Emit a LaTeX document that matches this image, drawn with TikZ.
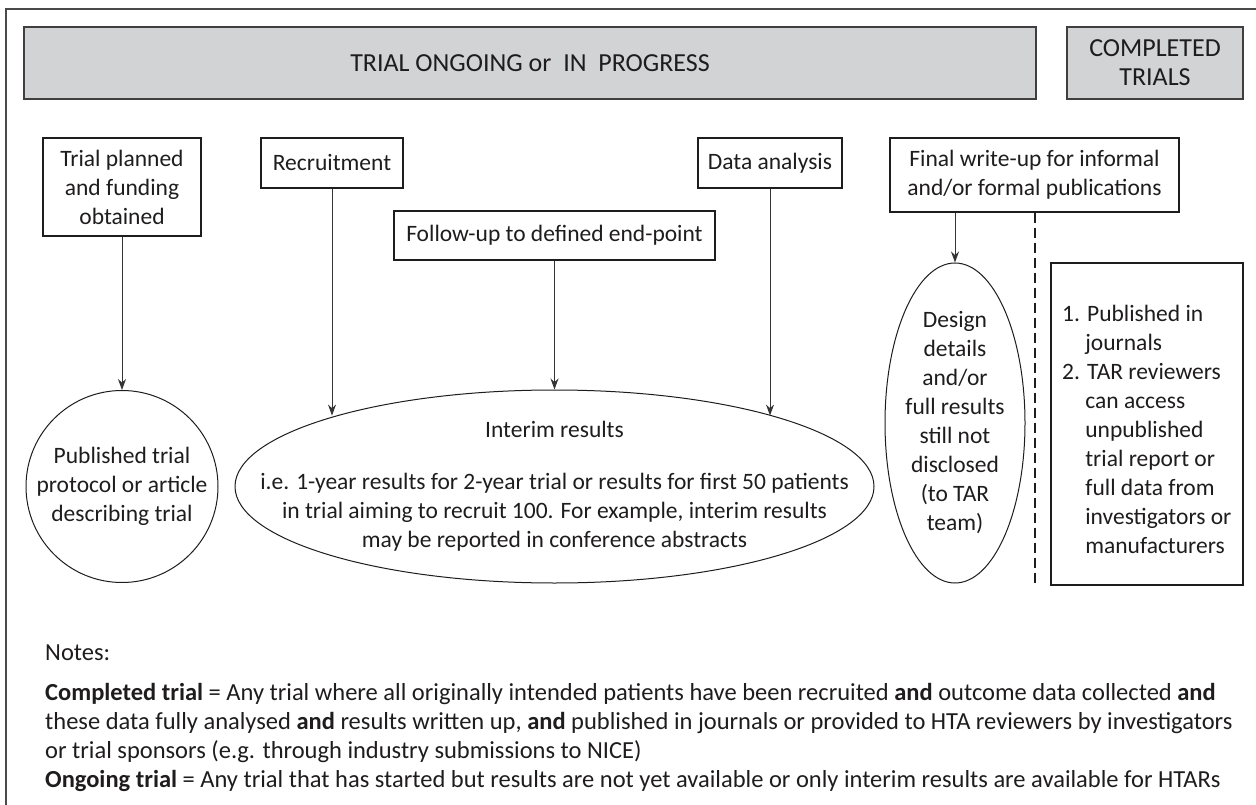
\documentclass[tikz,border=0pt]{standalone}
\usepackage{fontspec}
\setmainfont{Carlito}
\usetikzlibrary{arrows.meta,positioning,shapes.geometric}
\definecolor{bargray}{RGB}{209,211,212}
\definecolor{ink}{RGB}{30,28,29}

\begin{document}
\begin{tikzpicture}[x=1pt,y=-1pt,
  every node/.style={font=\fontsize{23.5}{29}\selectfont,text=ink},
  bar/.style={draw=ink!85,fill=bargray,align=center,inner sep=0pt,line width=1.1pt,font=\fontsize{26}{29}\selectfont},
  box/.style={draw=ink,align=center,inner sep=0pt,line width=1.1pt},
  oval/.style={draw=ink,ellipse,inner sep=0pt,line width=1pt},
  txt/.style={align=center,inner sep=0pt},
  f/.style={-{Stealth[length=11pt,width=8pt]},draw=ink!90,line width=1pt}]
\useasboundingbox (0,0) rectangle (1256,805);
\draw[ink!80,line width=1.2pt] (6,805) -- (6,9) -- (1256,9);
% header bars
\node[bar,minimum width=1012,minimum height=72] (ongo) at (530,63) {TRIAL ONGOING or\ \ IN\ \ PROGRESS};
\node[bar,minimum width=176,minimum height=72] (comp) at (1155,63) {COMPLETED\\TRIALS};
% stages
\node[box,minimum width=158,minimum height=98] (plan) at (122,187) {Trial planned\\and funding\\obtained};
\node[box,minimum width=142,minimum height=50] (recr) at (332,163) {Recruitment};
\node[box,minimum width=321,minimum height=49] (follow) at (554.5,235.5) {Follow-up to defined end-point};
\node[box,minimum width=144,minimum height=50] (data) at (770,163) {Data analysis};
\node[box,minimum width=289,minimum height=74] (final) at (1034.5,175) {Final write-up for informal\\and/or formal publications};
% outcomes
\node[oval,minimum width=192,minimum height=192] (pub) at (122,486.5) {};
\node[txt] (pubtxt) at (pub) {Published trial\\protocol or article\\describing trial};
\node[oval,minimum width=639,minimum height=193] (interim) at (554.5,486.5) {};
\node[txt] (interimtxt) at (interim) {Interim results\\[23pt]i.e. 1-year results for 2-year trial or results for first 50 patients\\in trial aiming to recruit 100. For example, interim results\\may be reported in conference abstracts};
\node[oval,minimum width=140,minimum height=320] (design) at (955,423) {};
\node[txt] (designtxt) at (design) {Design\\details\\and/or\\full results\\still not\\disclosed\\(to TAR\\team)};
\node[box,minimum width=192,minimum height=322] (rbox) at (1147,424) {};
\node[txt,align=left,anchor=west] (rboxtxt) at (1062,429.5) {1. Published in\\\hphantom{1.\ }journals\\2. TAR reviewers\\\hphantom{2.\ }can access\\\hphantom{2.\ }unpublished\\\hphantom{2.\ }trial report or\\\hphantom{2.\ }full data from\\\hphantom{2.\ }investigators or\\\hphantom{2.\ }manufacturers};
% connectors
\draw[f] (plan) -- (pub);
\draw[f] (recr.south) -- (recr.south |- interim.162.71);
\draw[f] (follow) -- (interim.north);
\draw[f] (data.south) -- (data.south |- interim.18.3);
\draw[f] (final.south -| design.north) -- (design.north);
\draw[ink,line width=2pt,dash pattern=on 10pt off 5pt] (final.south) -- (final.south |- rbox.south);
% notes
\node[txt,anchor=west,font=\fontsize{24.5}{29}\selectfont] (notes) at (45,653) {Notes:};
\node[txt,align=left,anchor=west,font=\fontsize{24.5}{29}\selectfont] (defs) at (45,737) {\textbf{Completed trial} = Any trial where all originally intended patients have been recruited \textbf{and} outcome data collected \textbf{and}\\these data fully analysed \textbf{and} results written up, \textbf{and} published in journals or provided to HTA reviewers by investigators\\or trial sponsors (e.g. through industry submissions to NICE)\\\textbf{Ongoing trial} = Any trial that has started but results are not yet available or only interim results are available for HTARs};
\end{tikzpicture}
\end{document}
